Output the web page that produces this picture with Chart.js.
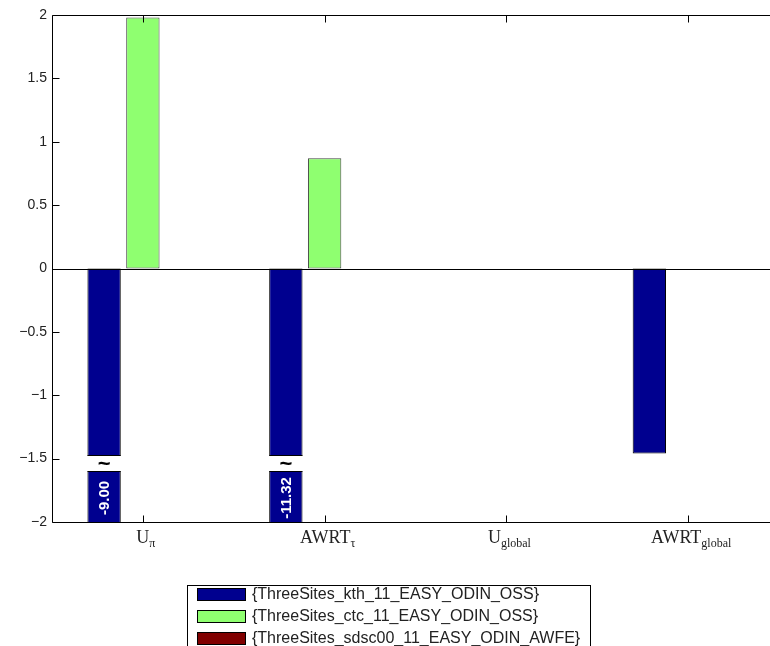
<!DOCTYPE html>
<html>
<head>
<meta charset="utf-8">
<script src="https://cdn.jsdelivr.net/npm/chart.js@4.4.1/dist/chart.umd.min.js"></script>
<style>
    html, body { margin: 0; padding: 0; background: #fff; overflow: hidden; }
    #chart { display: block; }
</style>
</head>
<body>
<canvas id="chart" width="790" height="646"></canvas>
<script>
// category labels (main text + subscript)
const categories = ['U', 'AWRT', 'U', 'AWRT'];
const categorySubs = ['\u03c0', '\u03c4', 'global', 'global'];

// series
const seriesLabels = [
    '{ThreeSites_kth_11_EASY_ODIN_OSS}',
    '{ThreeSites_ctc_11_EASY_ODIN_OSS}',
    '{ThreeSites_sdsc00_11_EASY_ODIN_AWFE}'
];
const kthValues = [-9.00, -11.32, 0, -1.46];
const ctcValues = [1.98, 0.87, 0, 0];
const sdscValues = [0, 0, 0, 0];
const seriesColors = ['#00008f', '#8fff70', '#800000'];

const yMin = -2, yMax = 2, yStep = 0.5;
// axis break drawn on bars that run past the bottom
const breakFrom = -1.475, breakTo = -1.6;

const sansFont = '"Liberation Sans", Helvetica, Arial, sans-serif';
const serifFont = '"Liberation Serif", "Times New Roman", serif';

const matlabAxes = {
    id: 'matlabAxes',
    afterDatasetsDraw(chart) {
        const ctx = chart.ctx;
        const a = chart.chartArea;
        const x = chart.scales.x, y = chart.scales.y;
        const L = Math.round(a.left) + 0.5, R = Math.round(a.right) + 0.5;
        const T = Math.round(a.top) + 0.5, B = Math.round(a.bottom) + 0.5;
        ctx.save();

        // broken bars
        let meta = chart.getDatasetMeta(0);
        meta.data.forEach((bar, i) => {
            let v = chart.data.datasets[0].data[i];
            if (v >= yMin) return;
            let half = bar.width / 2;
            let y1 = Math.round(y.getPixelForValue(breakFrom)) + 0.5;
            let y2 = Math.round(y.getPixelForValue(breakTo)) + 0.5;
            ctx.fillStyle = '#fff';
            ctx.fillRect(bar.x - half - 2, y1, bar.width + 4, y2 - y1);
            ctx.strokeStyle = '#000';
            ctx.lineWidth = 1;
            ctx.beginPath();
            ctx.moveTo(bar.x - half, y1); ctx.lineTo(bar.x + half, y1);
            ctx.moveTo(bar.x - half, y2); ctx.lineTo(bar.x + half, y2);
            ctx.stroke();
            ctx.fillStyle = '#000';
            ctx.font = 'bold 22px ' + sansFont;
            ctx.textAlign = 'center';
            ctx.textBaseline = 'middle';
            ctx.fillText('~', bar.x, (y1 + y2) / 2 + 1);
            // value label, rotated
            ctx.save();
            ctx.translate(bar.x + 1, (y2 + B) / 2 + 1);
            ctx.rotate(-Math.PI / 2);
            ctx.fillStyle = '#fff';
            ctx.font = 'bold 15px ' + sansFont;
            ctx.fillText(v.toFixed(2), 0, 0);
            ctx.restore();
        });

        // zero line
        ctx.strokeStyle = '#000';
        ctx.lineWidth = 1;
        let z = Math.round(y.getPixelForValue(0)) + 0.5;
        ctx.beginPath();
        ctx.moveTo(L, z); ctx.lineTo(R, z);
        ctx.stroke();

        // frame
        ctx.beginPath();
        ctx.moveTo(L, T); ctx.lineTo(R, T); ctx.lineTo(R, B); ctx.lineTo(L, B); ctx.closePath();
        ctx.stroke();

        // inward ticks
        ctx.beginPath();
        y.ticks.forEach(t => {
            let py = Math.round(y.getPixelForValue(t.value)) + 0.5;
            ctx.moveTo(L, py); ctx.lineTo(L + 7, py);
            ctx.moveTo(R, py); ctx.lineTo(R - 7, py);
        });
        categories.forEach((c, i) => {
            let px = Math.round(x.getPixelForValue(i)) + 0.5;
            ctx.moveTo(px, B); ctx.lineTo(px, B - 7);
            ctx.moveTo(px, T); ctx.lineTo(px, T + 7);
        });
        ctx.stroke();

        // category labels with subscripts
        ctx.fillStyle = '#222';
        ctx.textBaseline = 'alphabetic';
        ctx.textAlign = 'left';
        categories.forEach((c, i) => {
            let px = x.getPixelForValue(i);
            ctx.font = '18px ' + serifFont;
            let w1 = ctx.measureText(c).width;
            ctx.font = '12px ' + serifFont;
            let w2 = ctx.measureText(categorySubs[i]).width;
            let sx = px - (w1 + w2) / 2 + 3;
            ctx.font = '18px ' + serifFont;
            ctx.fillText(c, sx, 543);
            ctx.font = '12px ' + serifFont;
            ctx.fillText(categorySubs[i], sx + w1, 547);
        });

        // legend
        ctx.fillStyle = '#fff';
        ctx.fillRect(187.5, 585.5, 403, 70);
        ctx.strokeStyle = '#000';
        ctx.strokeRect(187.5, 585.5, 403, 70);
        ctx.font = '16px ' + sansFont;
        ctx.textBaseline = 'middle';
        seriesLabels.forEach((lab, i) => {
            let ry = 588 + i * 22;
            ctx.fillStyle = seriesColors[i];
            ctx.fillRect(197.5, ry + 0.5, 48, 12);
            ctx.strokeStyle = '#000';
            ctx.strokeRect(197.5, ry + 0.5, 48, 12);
            ctx.fillStyle = '#222';
            ctx.fillText(lab, 252, ry + 7);
        });
        ctx.restore();
    }
};

new Chart(document.getElementById('chart'), {
    type: 'bar',
    data: {
        labels: categories,
        datasets: [
            { label: seriesLabels[0], data: kthValues, backgroundColor: seriesColors[0], borderColor: '#000', borderWidth: 1, borderSkipped: false },
            { label: seriesLabels[1], data: ctcValues, backgroundColor: seriesColors[1], borderColor: '#444', borderWidth: 1, borderSkipped: false },
            { label: seriesLabels[2], data: sdscValues, backgroundColor: seriesColors[2], borderColor: '#000', borderWidth: 0, borderSkipped: false }
        ]
    },
    options: {
        responsive: false,
        animation: false,
        categoryPercentage: 0.64,
        barPercentage: 0.86,
        layout: { padding: { left: 0, right: 11, top: 15, bottom: 0 } },
        plugins: { legend: { display: false }, tooltip: { enabled: false } },
        scales: {
            x: {
                grid: { display: false },
                border: { display: false },
                ticks: { display: false },
                afterFit: s => { s.height = 124; }
            },
            y: {
                min: yMin,
                max: yMax,
                grid: { display: false, drawTicks: false },
                border: { display: false },
                ticks: {
                    stepSize: yStep,
                    padding: 5,
                    color: '#222',
                    font: { family: sansFont, size: 14 },
                    callback: v => String(v).replace('-', '\u2212')
                },
                afterFit: s => { s.width = 52; }
            }
        }
    },
    plugins: [matlabAxes]
});
</script>
</body>
</html>
